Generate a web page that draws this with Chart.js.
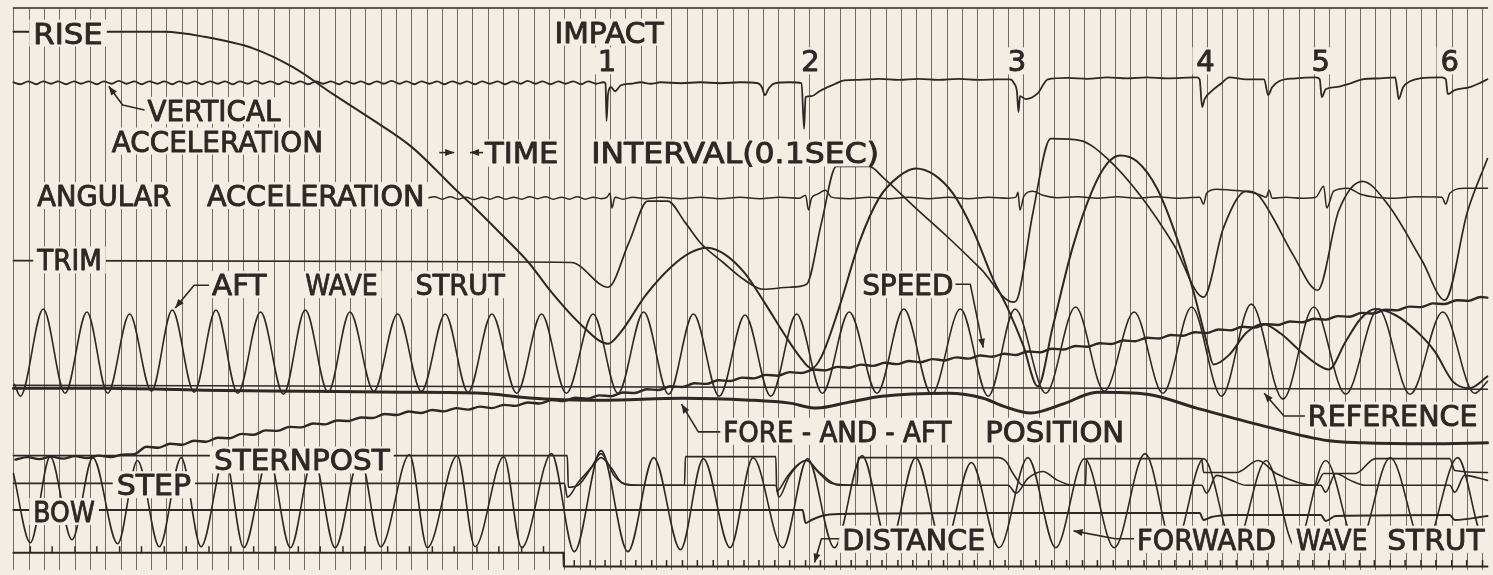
<!DOCTYPE html>
<html><head><meta charset="utf-8">
<script src="https://cdn.jsdelivr.net/npm/chart.js@4/dist/chart.umd.min.js"></script>
<style>
html,body{margin:0;padding:0;background:#f3eee4;overflow:hidden;}
#wrap{position:relative;width:1493px;height:575px;}
</style></head><body>
<div id="wrap"><canvas id="c"></canvas></div>
<script>
// ---- Oscillograph record, x = record length units (0.1 s timer lines), y = deflection from top edge ----
const timerStart = 8.5, timerStep = 15.414;   // 0.1 s timer lines

const recordEdge = [[8,8],[1493,8]];
const rise = [[8,32],[160,32],[200,37],[250,49],[290,68],[330,95],[370,121],[410,149],[450,188],[475,212],[500,237],[527,265],[550,295],[580,328],[607,347],[620,335],[645,298],[670,270],[690,255],[707,250],[725,257],[745,276],[765,306],[785,338],[800,360],[812,372],[822,360],[840,310],[860,245],[880,200],[900,178],[917,170],[935,176],[955,196],[975,233],[995,282],[1010,312],[1025,348],[1040,390],[1055,330],[1075,250],[1095,192],[1110,165],[1123,157],[1140,163],[1160,190],[1180,240],[1197,295],[1210,345],[1217,368],[1233,358],[1250,336],[1267,327],[1285,337],[1305,355],[1320,367],[1333,373],[1350,345],[1365,322],[1380,312],[1400,318],[1420,333],[1440,355],[1458,385],[1475,392],[1493,380]];
const vertAcc = [[8,83],[15,85],[23,82],[31,85],[38,82],[46,84.5],[53,82],[61,85],[69,82],[76,84.5],[84,82],[92,85],[99,82],[107,84.5],[114,81.5],[122,84.5],[130,82],[137,85],[145,82],[153,84.5],[160,82],[168,85],[175,82],[183,84.5],[191,82],[198,85],[206,82],[214,84.5],[221,82],[229,85],[236,82],[244,84.5],[252,81.5],[259,84.5],[267,82],[275,85],[282,82],[290,84.5],[297,82],[305,85],[313,82],[320,84.5],[328,82],[336,85],[343,82],[351,84.5],[358,82],[366,85],[374,82],[381,84.5],[389,81.5],[397,84.5],[404,82],[412,85],[419,82],[427,84.5],[435,82],[442,85],[450,82],[458,84.5],[465,82],[473,85],[480,82],[488,84.5],[496,82],[503,85],[511,82],[519,84.5],[526,81.5],[534,84.5],[541,82],[549,85],[557,82],[564,84.5],[572,82],[580,85],[587,82],[595,84.5],[602,83],[604.5,84],[605.5,122],[607,95],[610,88],[614,92],[620,86],[630,84.5],[640,83],[650,84.5],[660,83],[680,84],[700,83],[720,84],[740,83],[758,84],[762,88],[765,96],[769,89],[775,84],[790,83],[802,84],[804.5,130],[806,98],[812,97],[820,92],[835,85],[845,81],[860,80.5],[880,79.5],[900,80.5],[920,79.5],[940,80.5],[960,79.5],[980,80.5],[1000,80],[1012,80],[1016,84],[1019,93],[1020.5,113],[1022,97],[1028,100],[1040,94],[1050,80],[1070,78.5],[1090,79.5],[1110,78],[1130,79],[1150,78],[1170,79],[1200,78],[1203,80],[1205.5,108],[1208,100],[1215,92],[1225,84],[1233,78],[1250,80],[1268,80],[1272,96],[1276,88],[1283,82],[1300,79],[1320,78],[1324,80],[1326,98],[1330,90],[1340,88],[1355,84],[1367,80],[1385,79],[1400,78],[1402,90],[1403.5,100],[1408,88],[1415,82],[1425,79],[1447,78],[1451,80],[1453,95],[1460,91],[1475,88],[1485,84],[1493,80]];
const angAcc = [[425,200],[432,198.5],[440,201],[448,198.5],[456,201],[464,199],[472,201.5],[480,199],[488,201],[496,198.5],[504,201],[512,199],[520,201],[528,198.5],[536,200.5],[544,198.5],[552,201],[560,199],[568,201],[576,198.5],[584,201],[592,199],[600,200.5],[606,199],[609,195],[611,210],[614,199],[622,201],[632,199],[645,200.5],[660,199],[680,200.5],[700,199],[720,200.5],[740,199],[760,200.5],[780,199],[800,200],[806,197],[809,212],[812,200],[818,196],[826,192],[832,199],[850,200.5],[870,199],[890,200.5],[910,199],[930,200.5],[950,199],[970,200.5],[990,199],[1010,200],[1018,199],[1020,194],[1022,212],[1026,198],[1035,193],[1045,197],[1060,199.5],[1080,198.5],[1100,200],[1120,198.5],[1140,200],[1160,198.5],[1180,200],[1203,199],[1207,206],[1210,195],[1220,191],[1235,192],[1248,193],[1262,196],[1270,199],[1273,192],[1276,200],[1290,199],[1305,200],[1320,199],[1328,188],[1331,210],[1338,193],[1352,190],[1365,196],[1380,199],[1400,200],[1420,198.5],[1447,199],[1451,206],[1455,195],[1470,190],[1493,190]];
const trim = [[8,263],[400,264],[570,265],[607,290],[628,245],[647,203],[667,203],[685,225],[700,245],[723,265],[745,283],[763,292],[790,290],[807,287],[822,225],[837,168],[870,168],[885,180],[917,210],[950,240],[983,272],[1015,305],[1020,300],[1035,215],[1053,140],[1083,142],[1110,160],[1143,197],[1177,247],[1207,300],[1227,230],[1250,193],[1262,197],[1277,220],[1297,257],[1322,293],[1343,213],[1367,183],[1393,207],[1427,263],[1450,303],[1473,213],[1493,160]];
const aftWave = [[9,388],[15,400],[38,312],[60,397],[82,315],[103,397],[125,317],[147,395],[168,313],[190,396],[212,313],[234,397],[257,315],[280,398],[302,313],[325,396],[347,315],[371,395],[395,317],[419,395],[443,317],[466,396],[490,317],[515,397],[540,317],[565,397],[592,317],[617,397],[643,315],[668,398],[693,317],[719,400],[745,318],[771,400],[797,317],[823,397],[850,315],[878,397],[905,312],[933,398],[962,312],[990,400],[1017,312],[1048,397],[1078,310],[1107,395],[1137,315],[1166,397],[1195,310],[1225,400],[1255,307],[1287,403],[1318,310],[1350,398],[1383,312],[1415,398],[1448,315],[1480,397],[1493,385]];
const reference = [[8,389],[1493,393]];
const foreAft = [[8,392],[100,392],[200,394],[300,395],[400,396],[480,397],[520,401],[550,403],[600,404],[683,402],[750,404],[790,407],[817,412],[850,406],[883,400],[950,397],[985,402],[1005,410],[1033,417],[1065,408],[1100,396],[1150,398],[1200,412],[1267,430],[1333,445],[1367,447],[1433,448],[1493,447]];
const speed = [[10,464],[22,461.5],[34,463.5],[46,461],[58,463],[70,460.5],[82,462.5],[94,460],[106,461.5],[118,459],[130,458.5],[142,451],[154,452],[166,448],[178,449],[190,445],[202,446],[214,442],[226,442.5],[238,438],[250,439],[262,434.5],[274,435],[286,431],[298,431.5],[310,427.5],[322,428.5],[334,424.5],[346,425],[358,421.5],[370,422],[382,418],[394,419],[406,415.5],[418,417],[430,414],[442,415.3],[454,412],[466,413.6],[478,410.5],[490,412],[502,408.8],[514,409.8],[526,406.4],[538,407.4],[550,404],[562,405],[574,401.6],[586,402.6],[598,399.2],[610,400],[622,396.2],[634,396.8],[646,393],[658,393.8],[670,390],[682,390.7],[694,386.9],[706,387.6],[718,383.9],[730,384.7],[742,381.2],[754,382],[766,378.5],[778,379.3],[790,375.7],[802,376.6],[814,373.1],[826,373.9],[838,370.4],[850,371.2],[862,368.1],[874,369.4],[886,366.3],[898,367.6],[910,364.4],[922,365.7],[934,362.6],[946,363.9],[958,360.8],[970,362.1],[982,358.9],[994,360.2],[1006,357.1],[1018,358.4],[1030,354.8],[1042,355.7],[1054,352.1],[1066,352.9],[1078,349.3],[1090,350.1],[1102,346.5],[1114,347.3],[1126,343.7],[1138,344.5],[1150,341],[1162,341.8],[1174,338.2],[1186,339],[1198,335.4],[1210,336.2],[1222,332.6],[1234,333.5],[1246,329.9],[1258,330.8],[1270,327.2],[1282,328.1],[1294,324.5],[1306,325.4],[1318,321.8],[1330,322.7],[1342,319.1],[1354,319.7],[1366,315.9],[1378,316.5],[1390,312.7],[1402,313.3],[1414,309.5],[1426,310.1],[1438,306.3],[1450,306.9],[1462,303.1],[1474,303.7],[1486,299.9],[1493,300.5]];
const sternpost = [[8,460],[566,460],[567,492],[578,489],[592,470],[600,462],[610,472],[622,488],[640,490],[684,490],[685,461],[776,461],[777,496],[787,482],[797,470],[807,465],[818,476],[832,488],[858,490],[859,462],[1000,462],[1008,466],[1015,478],[1025,490],[1088,490],[1089,463],[1205,463],[1207,477],[1240,477],[1262,465],[1280,478],[1320,490],[1328,478],[1360,478],[1380,463],[1455,463],[1460,475],[1493,477]];
const step = [[8,488],[563,488],[566,502],[577,487],[590,472],[600,458],[607,468],[613,480],[630,490],[776,490],[779,502],[790,480],[807,465],[820,477],[840,490],[1010,490],[1018,498],[1030,483],[1045,476],[1060,485],[1075,490],[1205,490],[1210,498],[1220,480],[1235,485],[1250,490],[1325,490],[1330,497],[1340,478],[1355,485],[1370,490],[1455,490],[1460,497],[1470,480],[1493,485]];
const bow = [[8,515],[803,515],[806,528],[812,525],[822,521],[840,519],[1000,518],[1203,518],[1207,525],[1215,522],[1235,520],[1325,520],[1330,526],[1340,521],[1455,520],[1460,525],[1493,521]];
const fwdWave = [[8,478],[25,548],[45,461],[67,545],[88,462],[113,549],[133,465],[155,552],[177,462],[197,552],[221,461],[240,553],[265,461],[287,553],[310,461],[332,553],[357,461],[378,552],[407,459],[425,553],[455,460],[473,552],[502,461],[520,553],[550,458],[573,557],[600,455],[627,557],[653,462],[680,555],[703,463],[730,553],[753,462],[783,553],[808,463],[835,553],[863,460],[890,553],[917,462],[945,553],[973,467],[1001,553],[1030,462],[1058,553],[1087,463],[1117,553],[1148,458],[1177,553],[1207,463],[1238,553],[1270,465],[1300,553],[1330,465],[1362,553],[1395,462],[1429,553],[1463,462],[1490,545],[1493,540]];
const distance = [[8,558],[562,558],[562.5,572],[1493,572]];
const distMarksSlow = [25,47,70,92,115,137,160,182,205,227,250,272,295,317,340,362,385,407,430,452,475,497,520,542];
const distMarksFast = [573,589,604,620,635,651,666,682,697,713,728,744,759,775,790,806,821,837,852,868,883,899,914,930,945,961,976,992,1007,1023,1038,1054,1069,1085,1100,1116,1131,1147,1162,1178,1193,1209,1224,1240,1255,1271,1286,1302,1317,1333,1348,1364,1379,1395,1410,1426,1441,1457,1472,1488];

// ---- annotations (record units) ----
const labels = [
 {t:'RISE', x:28, y:44, w:70},
 {t:'VERTICAL', x:143, y:122, w:134},
 {t:'ACCELERATION', x:107, y:153, w:213},
 {t:'IMPACT', x:553, y:43, w:110},
 {t:'1', x:606, y:72, c:true},
 {t:'2', x:811, y:72, c:true},
 {t:'3', x:1019, y:72, c:true},
 {t:'4', x:1209, y:72, c:true},
 {t:'5', x:1325, y:72, c:true},
 {t:'6', x:1455, y:72, c:true},
 {t:'TIME', x:483, y:165, w:74},
 {t:'INTERVAL(0.1SEC)', x:590, y:165, w:290},
 {t:'ANGULAR', x:32, y:208, w:135},
 {t:'ACCELERATION', x:203, y:208, w:219},
 {t:'TRIM', x:32, y:273, w:65},
 {t:'AFT', x:208, y:298, w:55},
 {t:'WAVE', x:302, y:298, w:73},
 {t:'STRUT', x:413, y:298, w:90},
 {t:'SPEED', x:863, y:298, w:92},
 {t:'FORE - AND - AFT', x:723, y:446, w:230},
 {t:'POSITION', x:987, y:446, w:140},
 {t:'REFERENCE', x:1312, y:430, w:171},
 {t:'STERNPOST', x:210, y:475, w:177},
 {t:'STEP', x:112, y:500, w:75},
 {t:'BOW', x:28, y:527, w:62},
 {t:'DISTANCE', x:843, y:555, w:144},
 {t:'FORWARD', x:1140, y:555, w:140},
 {t:'WAVE', x:1300, y:555, w:72},
 {t:'STRUT', x:1392, y:555, w:98}
];
const leaders = [
 [[140,111],[118,106],[104,87]],
 [[437,154],[452,154]],
 [[481,154],[468,154]],
 [[205,288],[190,288],[171,311]],
 [[957,287],[972,287],[985,351]],
 [[720,436],[698,436],[681,408]],
 [[1309,420],[1288,420],[1268,397]],
 [[840,544],[822,544],[815,568]],
 [[1137,544],[1118,544],[1076,536]]
];

const INK = '#2d2824', PAPER = '#f3eee4', GRID = 'rgba(58,52,47,0.7)';
const timerMarks = [];
for (let v = timerStart; v <= 1493; v += timerStep) timerMarks.push(v);

function pts(a){ return a.map(p => ({x:p[0], y:p[1]})); }
function trace(label, arr, w, extra){
  return Object.assign({type:'line', label, data:pts(arr), borderColor:INK, borderWidth:w, pointRadius:0,
    fill:false, cubicInterpolationMode:'monotone', clip:false, borderJoinStyle:'round', borderCapStyle:'round'}, extra||{});
}
const straight = {cubicInterpolationMode:'default', tension:0};

const annot = {
  id:'annot',
  afterDatasetsDraw(chart){
    const {ctx, scales:{x, y}} = chart;
    ctx.save();
    ctx.font = '29px "DejaVu Sans", "Liberation Sans", sans-serif';
    ctx.textBaseline = 'alphabetic';
    const boxes = labels.map(l => {
      const px = x.getPixelForValue(l.x), py = y.getPixelForValue(l.y);
      const nat = ctx.measureText(l.t).width;
      const w = l.w ? (x.getPixelForValue(l.x + l.w) - px) : nat;
      const left = l.c ? px - w/2 : px;
      return {l, left, py, w, nat};
    });
    ctx.fillStyle = PAPER;
    boxes.forEach(b => ctx.fillRect(b.left - 4, b.py - 24, b.w + 8, 27));
    // leaders with arrowheads
    ctx.strokeStyle = INK; ctx.fillStyle = INK; ctx.lineWidth = 1.6; ctx.lineJoin = 'round';
    leaders.forEach(L => {
      const P = L.map(p => [x.getPixelForValue(p[0]), y.getPixelForValue(p[1])]);
      ctx.beginPath(); ctx.moveTo(P[0][0], P[0][1]);
      for (let i = 1; i < P.length; i++) ctx.lineTo(P[i][0], P[i][1]);
      ctx.stroke();
      const a = P[P.length-1], b = P[P.length-2];
      const dx = a[0]-b[0], dy = a[1]-b[1], d = Math.hypot(dx, dy), ux = dx/d, uy = dy/d;
      ctx.beginPath();
      ctx.moveTo(a[0], a[1]);
      ctx.lineTo(a[0]-ux*9-uy*3.5, a[1]-uy*9+ux*3.5);
      ctx.lineTo(a[0]-ux*9+uy*3.5, a[1]-uy*9-ux*3.5);
      ctx.closePath(); ctx.fill();
    });
    boxes.forEach(b => {
      ctx.save(); ctx.translate(b.left, b.py); ctx.scale(b.w / b.nat, 1);
      ctx.fillStyle = INK; ctx.strokeStyle = INK; ctx.lineWidth = 0.9; ctx.lineJoin = 'round';
      ctx.fillText(b.l.t, 0, 0); ctx.strokeText(b.l.t, 0, 0); ctx.restore();
    });
    ctx.restore();
  }
};

new Chart(document.getElementById('c'), {
  type:'line',
  data:{datasets:[
    trace('Record edge', recordEdge, 1.5, straight),
    trace('Rise', rise, 2),
    trace('Vertical acceleration', vertAcc, 1.8),
    trace('Angular acceleration', angAcc, 1.5),
    trace('Trim', trim, 1.7),
    trace('Aft wave strut', aftWave, 1.6),
    trace('Reference', reference, 1.5, straight),
    trace('Fore-and-aft position', foreAft, 3),
    trace('Speed', speed, 2.4),
    trace('Sternpost', sternpost, 1.6),
    trace('Step', step, 1.6),
    trace('Bow', bow, 2),
    trace('Forward wave strut', fwdWave, 1.6),
    trace('Distance', distance, 2, straight),
    {type:'scatter', label:'Distance marks (slow)', data:distMarksSlow.map(v => ({x:v, y:555})), showLine:false,
     pointStyle:'line', rotation:90, pointRadius:3.5, borderColor:INK, borderWidth:1.5, clip:false},
    {type:'scatter', label:'Distance marks (fast)', data:distMarksFast.map(v => ({x:v, y:569})), showLine:false,
     pointStyle:'line', rotation:90, pointRadius:3.5, borderColor:INK, borderWidth:1.5, clip:false}
  ]},
  options:{
    animation:false, responsive:true, maintainAspectRatio:false, events:[],
    layout:{padding:{top:8, left:0, right:0, bottom:0}},
    plugins:{legend:{display:false}, tooltip:{enabled:false}},
    scales:{
      x:{type:'linear', min:0, max:1493, display:true,
         ticks:{display:false}, border:{display:false},
         grid:{color:GRID, lineWidth:1, drawTicks:false},
         afterBuildTicks:(s) => { s.ticks = timerMarks.map(v => ({value:v})); }},
      y:{type:'linear', min:8, max:575, reverse:true, display:false}
    }
  },
  plugins:[annot]
});
</script></body></html>
